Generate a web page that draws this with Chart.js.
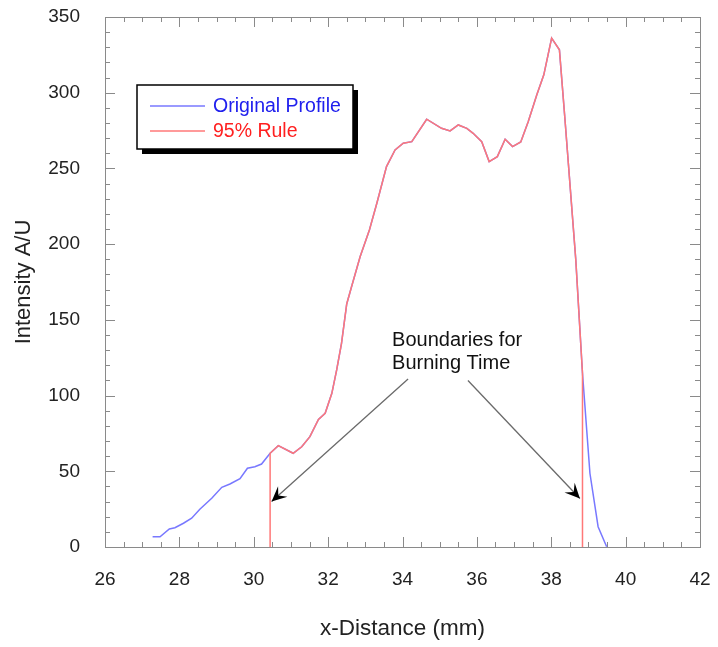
<!DOCTYPE html>
<html>
<head>
<meta charset="utf-8">
<script src="https://cdn.jsdelivr.net/npm/chart.js@4.4.0/dist/chart.umd.min.js"></script>
<style>
  html, body { margin: 0; padding: 0; background: #fff; }
  #wrap { width: 718px; height: 647px; }
</style>
</head>
<body>
<div id="wrap"><canvas id="profileChart" width="718" height="647"></canvas></div>
<script>
// intensity profile (x in mm, intensity A/U)
const profileX = [27.28, 27.48, 27.73, 27.88, 28.11, 28.33, 28.55, 28.87, 29.14, 29.36,
  29.63, 29.83, 30.03, 30.21, 30.44, 30.66, 31.06, 31.29, 31.51, 31.74,
  31.92, 32.10, 32.23, 32.36, 32.50, 32.63, 32.86, 33.11, 33.31, 33.57,
  33.80, 34.02, 34.25, 34.65, 35.05, 35.28, 35.50, 35.73, 35.90, 36.13,
  36.33, 36.55, 36.76, 36.96, 37.18, 37.38, 37.61, 37.80, 38.01, 38.22,
  38.37, 38.66, 38.84, 39.04, 39.26, 39.49];
const profileY = [6.8, 6.8, 11.9, 12.7, 15.7, 19.0, 24.9, 32.2, 39.4, 41.6,
  45.1, 52.0, 53.0, 54.8, 61.9, 66.9, 61.9, 66.2, 72.9, 84.3,
  88.3, 101.5, 116.9, 134.5, 160.5, 171.9, 191.7, 209.4, 227.0, 251.2,
  262.2, 266.6, 267.7, 282.5, 276.5, 274.8, 278.7, 276.5, 273.2, 267.7,
  254.5, 257.8, 269.3, 264.4, 267.5, 280.9, 298.5, 311.8, 336.0, 328.3,
  282.0, 189.6, 114.7, 48.7, 13.4, 0.2];

// boundaries from the 95% rule
const ruleStart = 30.44;
const ruleEnd = 38.84;

const xTicks = [26, 28, 30, 32, 34, 36, 38, 40, 42];
const yTicks = [0, 50, 100, 150, 200, 250, 300, 350];

const seriesNames = ['Original Profile', '95% Rule'];
const noteLines = ['Boundaries for', 'Burning Time'];

const FONT = "'Liberation Sans', Arial, Helvetica, sans-serif";
const BLUE = 'rgb(120,120,255)';
const RED = 'rgb(255,120,120)';
const AXIS = '#8a8a8a';

const originalData = profileX.map((x, i) => ({ x: x, y: profileY[i] }));
const ruleData = [{ x: ruleStart, y: 0 }]
  .concat(originalData.filter(p => p.x >= ruleStart && p.x <= ruleEnd))
  .concat([{ x: ruleEnd, y: 0 }]);

// frame with inward ticks on all four sides
const framePlugin = {
  id: 'frame',
  beforeDatasetsDraw(chart) {
    const { ctx, chartArea: a, scales } = chart;
    const xs = scales.x, ys = scales.y;
    ctx.save();
    ctx.strokeStyle = AXIS;
    ctx.lineWidth = 1;
    ctx.beginPath();
    for (let v = xs.min; v <= xs.max + 1e-6; v += 0.5) {
      const px = Math.round(xs.getPixelForValue(v)) + 0.5;
      const len = Math.abs(v % 2) < 1e-6 ? 10 : 5;
      ctx.moveTo(px, a.bottom); ctx.lineTo(px, a.bottom - len);
      ctx.moveTo(px, a.top); ctx.lineTo(px, a.top + len);
    }
    for (let v = ys.min; v <= ys.max + 1e-6; v += 10) {
      const py = Math.round(ys.getPixelForValue(v)) + 0.5;
      const len = Math.abs(v % 50) < 1e-6 ? 10 : 5;
      ctx.moveTo(a.left, py); ctx.lineTo(a.left + len, py);
      ctx.moveTo(a.right, py); ctx.lineTo(a.right - len, py);
    }
    ctx.stroke();
    ctx.strokeRect(Math.round(a.left) + 0.5, Math.round(a.top) + 0.5,
      Math.round(a.right - a.left), Math.round(a.bottom - a.top));
    ctx.restore();
  }
};

function arrow(ctx, x0, y0, x1, y1) {
  ctx.strokeStyle = '#6a6a6a';
  ctx.lineWidth = 1.3;
  ctx.beginPath();
  ctx.moveTo(x0, y0); ctx.lineTo(x1, y1);
  ctx.stroke();
  const ang = Math.atan2(y1 - y0, x1 - x0);
  const L = 15, W = 7;
  const dx = Math.cos(ang), dy = Math.sin(ang);
  const nx = -dy, ny = dx;
  ctx.fillStyle = '#000';
  ctx.beginPath();
  ctx.moveTo(x1, y1);
  ctx.lineTo(x1 - dx * L + nx * W, y1 - dy * L + ny * W);
  ctx.lineTo(x1 - dx * L * 0.6, y1 - dy * L * 0.6);
  ctx.lineTo(x1 - dx * L - nx * W, y1 - dy * L - ny * W);
  ctx.closePath();
  ctx.fill();
}

// legend box and annotation
const notesPlugin = {
  id: 'notes',
  afterDatasetsDraw(chart) {
    const { ctx, chartArea: a, scales } = chart;
    const xs = scales.x, ys = scales.y;
    ctx.save();

    // legend
    const bx = a.left + 32, by = a.top + 68, bw = 216, bh = 64;
    ctx.fillStyle = '#000';
    ctx.fillRect(bx + 5, by + 5, bw, bh);
    ctx.fillStyle = '#fff';
    ctx.fillRect(bx, by, bw, bh);
    ctx.strokeStyle = '#000';
    ctx.lineWidth = 1.5;
    ctx.strokeRect(bx, by, bw, bh);
    ctx.font = '19.5px ' + FONT;
    ctx.textBaseline = 'middle';
    const rows = [[BLUE, '#2020ee'], [RED, '#ff2020']];
    rows.forEach((c, i) => {
      const ly = by + 21 + i * 25;
      ctx.strokeStyle = c[0];
      ctx.lineWidth = 1.3;
      ctx.beginPath();
      ctx.moveTo(bx + 13, ly); ctx.lineTo(bx + 68, ly);
      ctx.stroke();
      ctx.fillStyle = c[1];
      ctx.fillText(seriesNames[i], bx + 76, ly + 1);
    });

    // annotation
    const tx = xs.getPixelForValue(33.72), ty = ys.getPixelForValue(132.5);
    ctx.fillStyle = '#111';
    ctx.font = '20px ' + FONT;
    ctx.textBaseline = 'alphabetic';
    ctx.textAlign = 'left';
    noteLines.forEach((t, i) => ctx.fillText(t, tx, ty + i * 23));
    arrow(ctx, xs.getPixelForValue(34.15), ys.getPixelForValue(111),
      xs.getPixelForValue(30.48), ys.getPixelForValue(30));
    arrow(ctx, xs.getPixelForValue(35.76), ys.getPixelForValue(110),
      xs.getPixelForValue(38.77), ys.getPixelForValue(32));
    ctx.restore();
  }
};

new Chart(document.getElementById('profileChart'), {
  type: 'line',
  data: {
    datasets: [
      {
        label: seriesNames[1],
        data: ruleData,
        borderColor: RED,
        borderWidth: 1.5,
        pointRadius: 0,
        tension: 0,
        order: 0
      },
      {
        label: seriesNames[0],
        data: originalData,
        borderColor: BLUE,
        borderWidth: 1.5,
        pointRadius: 0,
        tension: 0,
        order: 1
      }
    ]
  },
  options: {
    responsive: false,
    animation: false,
    layout: { padding: { top: 17, right: 18, left: 0, bottom: 0 } },
    plugins: { legend: { display: false }, tooltip: { enabled: false } },
    scales: {
      x: {
        type: 'linear',
        min: 26, max: 42,
        afterBuildTicks: s => { s.ticks = xTicks.map(v => ({ value: v })); },
        afterFit: s => { s.height = 100; s.paddingLeft = 0; s.paddingRight = 0; },
        grid: { display: false },
        border: { display: false },
        ticks: { color: '#222', padding: 13, font: { family: FONT, size: 19 } },
        title: {
          display: true, text: 'x-Distance (mm)', color: '#222',
          font: { family: FONT, size: 22.5 }, padding: { top: 0, bottom: 5 }
        }
      },
      y: {
        min: 0, max: 350,
        afterBuildTicks: s => { s.ticks = yTicks.map(v => ({ value: v })); },
        afterFit: s => { s.width = 105; s.paddingTop = 0; s.paddingBottom = 0; },
        grid: { display: false },
        border: { display: false },
        ticks: { color: '#222', padding: 17, font: { family: FONT, size: 19 } },
        title: {
          display: true, text: 'Intensity A/U', color: '#222',
          font: { family: FONT, size: 22 }, padding: { top: 11, bottom: 0 }
        }
      }
    }
  },
  plugins: [framePlugin, notesPlugin]
});
</script>
</body>
</html>
